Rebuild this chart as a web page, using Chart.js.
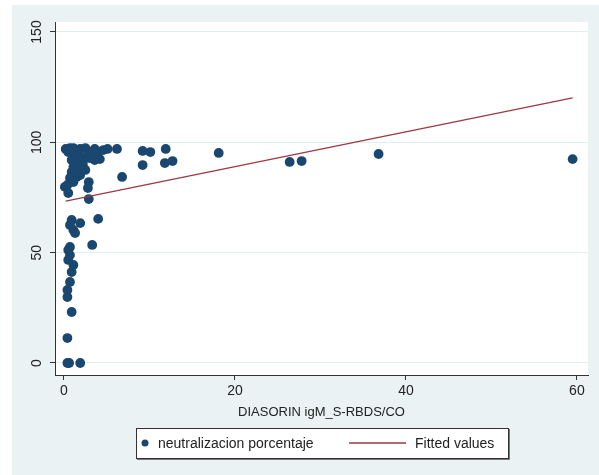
<!DOCTYPE html>
<html>
<head>
<meta charset="utf-8">
<script src="https://cdn.jsdelivr.net/npm/chart.js@4"></script>
<style>
  html, body { margin: 0; padding: 0; background: #fff; }
  canvas { display: block; }
</style>
</head>
<body>
<canvas id="myChart" width="599" height="475"></canvas>
<script>
// DIASORIN igM (S/CO) vs % neutralizacion
const igmValues = [
    0.2, 0.7, 1.1, 1.9, 2.5, 3.3, 4.0, 4.6, 5.1, 6.2, 9.2, 10.1, 11.9, 18.1,
    0.5, 1.3, 1.6, 2.8, 3.6, 2.2, 3.0, 0.9, 4.2, 9.2, 11.8, 12.7, 26.4, 27.8, 36.8, 59.5,
    2.2, 1.1, 1.6, 2.2, 0.9, 1.5, 6.8, 1.1, 0.4, 0.1, 2.9, 2.8, 0.5, 2.9,
    1.3, 1.9, 2.5, 0.7, 1.6, 3.6,
    0.9, 0.7, 1.1, 1.9, 4.0, 1.3, 3.3, 0.7, 0.5, 0.7, 0.5, 1.1, 0.9, 0.7, 0.4, 0.4, 0.9, 0.4,
    0.4, 0.6, 1.9
];
const neutralizacion = [
    97.0, 97.4, 97.4, 97.0, 97.4, 95.6, 95.6, 96.5, 97.0, 97.0, 96.1, 95.6, 97.0, 95.2,
    95.6, 94.3, 95.6, 94.3, 97.0, 92.9, 92.9, 92.0, 92.4, 89.7, 90.6, 91.5, 91.1, 91.5, 94.7, 92.4,
    90.6, 88.8, 88.4, 89.3, 86.6, 84.3, 84.3, 82.0, 80.7, 79.8, 82.0, 79.3, 77.0, 74.3,
    86.6, 85.2, 87.5, 83.8, 92.0, 92.0,
    64.8, 62.5, 60.3, 63.4, 65.3, 58.9, 53.5, 52.6, 51.2, 48.9, 46.7, 44.4, 41.2, 36.7, 33.1, 29.9, 23.1, 11.3,
    0, 0, 0
];
const fitX = [0.2, 59.5];
const fitY = [73.4, 120.1];
const xTicks = [0, 20, 40, 60];
const yTicks = [0, 50, 100, 150];

const navy = '#1a476f';
const maroon = '#993a40';
const panel = '#eaf2f3';
const FONT = 'Arial, "Liberation Sans", sans-serif';

const backgroundPlugin = {
    id: 'panel',
    beforeDraw(chart) {
        const c = chart.ctx;
        const a = chart.chartArea;
        c.save();
        c.fillStyle = '#fff';
        c.fillRect(0, 0, chart.width, chart.height);
        c.fillStyle = panel;
        c.fillRect(12, 5, chart.width - 12, chart.height - 5);
        c.fillStyle = '#fff';
        c.fillRect(a.left, a.top, a.right - a.left, a.bottom - a.top);
        c.restore();
    }
};

// stata style legend box under the x title
const legendBox = {
    id: 'legendBox',
    afterDraw(chart) {
        const c = chart.ctx;
        const y = 443;
        c.save();
        c.fillStyle = '#fff';
        c.fillRect(136.5, 428.5, 372, 30);
        c.strokeStyle = '#333';
        c.lineWidth = 1;
        c.strokeRect(136.5, 428.5, 372, 30);
        c.strokeStyle = '#777';
        c.beginPath();
        c.moveTo(137, 459.5);
        c.lineTo(509.5, 459.5);
        c.lineTo(509.5, 429);
        c.stroke();
        c.fillStyle = navy;
        c.beginPath();
        c.arc(145, y, 3.5, 0, Math.PI * 2);
        c.fill();
        c.strokeStyle = maroon;
        c.lineWidth = 1.3;
        c.beginPath();
        c.moveTo(349, y);
        c.lineTo(406, y);
        c.stroke();
        c.fillStyle = '#222';
        c.font = '14px ' + FONT;
        c.textBaseline = 'middle';
        c.fillText(chart.data.datasets[0].label, 158, y + 1);
        c.fillText(chart.data.datasets[1].label, 415, y + 1);
        c.restore();
    }
};

const ctx = document.getElementById('myChart').getContext('2d');
new Chart(ctx, {
    type: 'scatter',
    data: {
        datasets: [
            {
                label: 'neutralizacion porcentaje',
                data: igmValues.map((x, i) => ({ x: x, y: neutralizacion[i] })),
                backgroundColor: navy,
                borderWidth: 0,
                pointRadius: 4.9,
                order: 2
            },
            {
                label: 'Fitted values',
                type: 'line',
                data: fitX.map((x, i) => ({ x: x, y: fitY[i] })),
                borderColor: maroon,
                borderWidth: 1.3,
                pointRadius: 0,
                fill: false,
                order: 1
            }
        ]
    },
    options: {
        responsive: false,
        animation: false,
        layout: { padding: { left: 12, right: 11, top: 22, bottom: 55 } },
        plugins: {
            legend: { display: false },
            tooltip: { enabled: false }
        },
        scales: {
            x: {
                type: 'linear',
                min: -1.05,
                max: 61.3,
                afterBuildTicks: s => { s.ticks = xTicks.map(v => ({ value: v })); },
                afterFit: s => { s.height = 45; },
                border: { color: '#333', width: 1 },
                grid: { drawOnChartArea: false, tickColor: '#333', tickLength: 5 },
                ticks: { color: '#222', padding: 3, font: { family: FONT, size: 14 } },
                title: {
                    display: true,
                    text: 'DIASORIN igM_S-RBDS/CO',
                    color: '#222',
                    font: { family: FONT, size: 13 },
                    padding: { top: 0, bottom: 0 }
                }
            },
            y: {
                type: 'linear',
                min: -5.44,
                max: 154.53,
                afterBuildTicks: s => { s.ticks = yTicks.map(v => ({ value: v })); },
                afterFit: s => { s.width = 43; },
                border: { color: '#333', width: 1 },
                grid: { color: '#e4edf0', tickColor: '#333', tickLength: 5 },
                ticks: {
                    color: '#222',
                    padding: 1,
                    minRotation: 90,
                    maxRotation: 90,
                    crossAlign: 'center',
                    font: { family: FONT, size: 14 }
                }
            }
        }
    },
    plugins: [backgroundPlugin, legendBox]
});
</script>
</body>
</html>
